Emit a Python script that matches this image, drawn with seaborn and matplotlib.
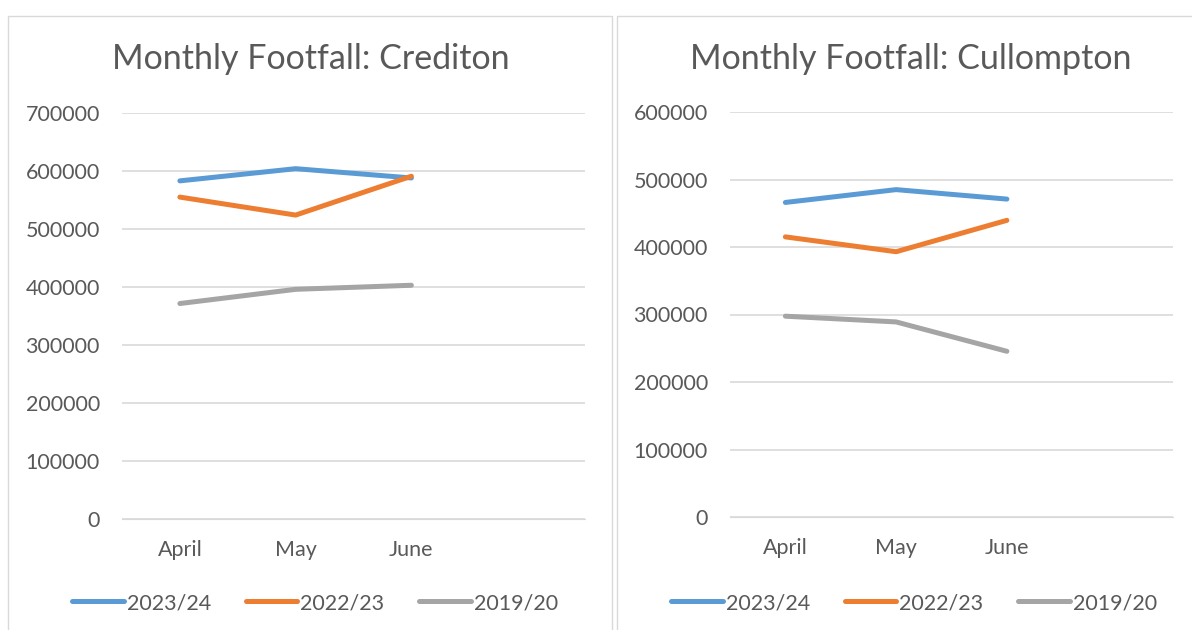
import pandas as pd
import matplotlib.pyplot as plt
import seaborn as sns
from matplotlib.lines import Line2D
from matplotlib.patches import Rectangle

# data
months = ["April", "May", "June"]
years = ["2023/24", "2022/23", "2019/20"]
crediton = {
    "2023/24": [583000, 604000, 588000],
    "2022/23": [555000, 524000, 591000],
    "2019/20": [371500, 396000, 403000],
}
cullompton = {
    "2023/24": [466000, 485000, 471000],
    "2022/23": [415000, 393000, 439500],
    "2019/20": [297500, 289000, 245500],
}
colors = ["#5B9BD5", "#ED7D31", "#A5A5A5"]
text_col = "#595959"


def to_long(d):
    rows = []
    for y in years:
        for m, v in zip(months, d[y]):
            rows.append({"month": m, "footfall": v, "year": y})
    return pd.DataFrame(rows)


sns.set_style("white")
plt.rcParams["font.family"] = ["Lato", "DejaVu Sans"]

fig = plt.figure(figsize=(11.92, 6.3), dpi=100)
W, H = 1192, 630


def px_axes(x0, y0, x1, y1):
    return fig.add_axes([x0 / W, 1 - y1 / H, (x1 - x0) / W, (y1 - y0) / H])


def draw(ax, d, title, ymax, title_x, legend_x):
    df = to_long(d)
    sns.lineplot(data=df, x="month", y="footfall", hue="year", hue_order=years,
                 palette=colors, linewidth=3.6, sort=False, ax=ax, legend=False)
    for ln in ax.get_lines():
        ln.set_solid_capstyle("round")
        ln.set_solid_joinstyle("round")
    ax.set_xlim(-0.5, 3.5)
    ax.set_ylim(0, ymax)
    ax.set_yticks(range(0, ymax + 1, 100000))
    ax.set_yticklabels([str(v) for v in range(0, ymax + 1, 100000)])
    ax.set_xticks(range(3))
    ax.set_xticklabels(months)
    ax.grid(axis="y", color="#D9D9D9", linewidth=1.2)
    ax.set_axisbelow(True)
    for s in ax.spines.values():
        s.set_visible(False)
    ax.spines["bottom"].set_visible(True)
    ax.spines["bottom"].set_color("#D9D9D9")
    ax.tick_params(axis="both", length=0, labelsize=15.5, labelcolor=text_col)
    ax.tick_params(axis="y", pad=16)
    ax.tick_params(axis="x", pad=15)
    ax.set_xlabel("")
    ax.set_ylabel("")
    fig.text(title_x / W, 1 - 59 / H, title, ha="center", va="center",
             fontsize=24.5, color=text_col)
    handles = [Line2D([], [], color=c, linewidth=3.6, solid_capstyle="round")
               for c in colors]
    fig.legend(handles, years, loc="center", bbox_to_anchor=(legend_x / W, 1 - 603 / H),
               ncol=3, frameon=False, fontsize=15.5, labelcolor=text_col,
               handlelength=2.4, handletextpad=0.15, columnspacing=1.6)


# chart borders
fig.patches.append(Rectangle((8 / W, -0.05), 604 / W, 1 - 16 / H + 0.05,
                             transform=fig.transFigure, fill=False,
                             edgecolor="#D9D9D9", linewidth=1))
fig.patches.append(Rectangle((617 / W, -0.05), 600 / W, 1 - 16 / H + 0.05,
                             transform=fig.transFigure, fill=False,
                             edgecolor="#D9D9D9", linewidth=1))

ax1 = px_axes(122, 113, 585, 519)
draw(ax1, crediton, "Monthly Footfall: Crediton", 700000, 311, 315)
ax2 = px_axes(730, 112, 1173, 517)
draw(ax2, cullompton, "Monthly Footfall: Cullompton", 600000, 911, 914)

fig.savefig("out.png", dpi=100)
